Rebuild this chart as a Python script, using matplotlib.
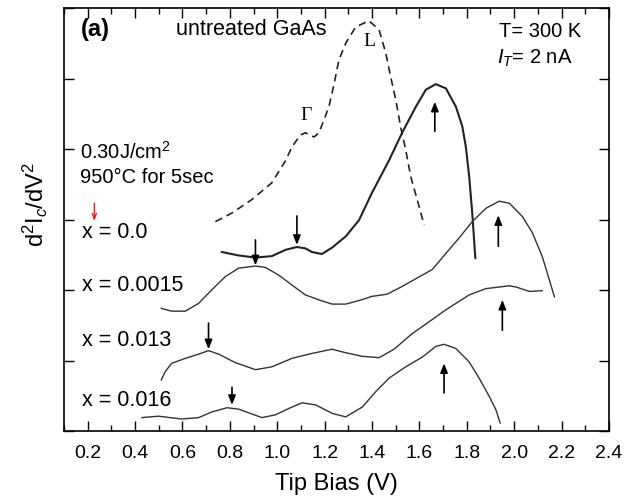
import matplotlib
matplotlib.use('Agg')
import matplotlib.pyplot as plt
import numpy as np

plt.rcParams['font.family'] = ['Liberation Sans', 'DejaVu Sans']
plt.rcParams['mathtext.fontset'] = 'custom'
plt.rcParams['mathtext.rm'] = 'Liberation Sans'
plt.rcParams['mathtext.it'] = 'Liberation Sans:italic'

# untreated GaAs reference (dashed)
ref_x = [0.739, 0.808, 0.892, 0.977, 1.036, 1.062, 1.098, 1.119, 1.155, 1.176, 1.197,
         1.218, 1.239, 1.260, 1.289, 1.331, 1.387, 1.430, 1.458, 1.479, 1.500, 1.521,
         1.542, 1.564, 1.599, 1.620]
ref_y = [2.97, 3.09, 3.28, 3.52, 3.84, 4.03, 4.20, 4.23, 4.17, 4.23, 4.41,
         4.60, 4.91, 5.26, 5.50, 5.73, 5.82, 5.69, 5.36, 5.02, 4.70, 4.31,
         3.99, 3.60, 3.18, 2.92]

# x = 0.0
c0_x = [0.765, 0.837, 0.908, 0.977, 1.035, 1.083, 1.119, 1.146, 1.188, 1.231, 1.289,
        1.345, 1.400, 1.472, 1.527, 1.585, 1.627, 1.669, 1.712, 1.754, 1.781, 1.796,
        1.810, 1.823, 1.836]
c0_y = [2.54, 2.49, 2.46, 2.48, 2.57, 2.61, 2.59, 2.54, 2.51, 2.60, 2.76,
        2.99, 3.38, 3.84, 4.23, 4.60, 4.84, 4.92, 4.86, 4.60, 4.32, 4.03,
        3.61, 3.09, 2.45]

# x = 0.0015
c1_x = [0.510, 0.554, 0.612, 0.668, 0.723, 0.781, 0.837, 0.908, 0.950, 1.007, 1.062,
        1.119, 1.176, 1.231, 1.289, 1.345, 1.400, 1.463, 1.527, 1.585, 1.654, 1.712,
        1.768, 1.823, 1.881, 1.937, 1.980, 2.035, 2.077, 2.119, 2.170]
c1_y = [1.74, 1.70, 1.70, 1.81, 2.00, 2.19, 2.31, 2.34, 2.32, 2.21, 2.07,
        1.93, 1.86, 1.80, 1.80, 1.85, 1.91, 1.94, 2.05, 2.16, 2.29, 2.52,
        2.74, 2.97, 3.16, 3.26, 3.23, 3.04, 2.81, 2.47, 1.90]

# x = 0.013
c2_x = [0.510, 0.527, 0.554, 0.612, 0.668, 0.710, 0.753, 0.823, 0.908, 0.977, 1.062,
        1.146, 1.231, 1.289, 1.358, 1.430, 1.493, 1.569, 1.641, 1.712, 1.810, 1.881,
        1.980, 2.010, 2.064, 2.119]
c2_y = [0.72, 0.84, 0.96, 1.03, 1.09, 1.14, 1.09, 0.97, 0.87, 0.91, 1.03,
        1.10, 1.16, 1.11, 1.06, 1.04, 1.16, 1.38, 1.55, 1.72, 1.93, 2.02,
        2.06, 2.04, 1.98, 1.99]

# x = 0.016
c3_x = [0.428, 0.499, 0.597, 0.668, 0.724, 0.788, 0.837, 0.894, 0.936, 0.993, 1.049,
        1.105, 1.162, 1.232, 1.289, 1.359, 1.416, 1.472, 1.542, 1.613, 1.669, 1.704,
        1.754, 1.810, 1.852, 1.895, 1.923, 1.941]
c3_y = [0.19, 0.21, 0.17, 0.19, 0.27, 0.33, 0.31, 0.24, 0.19, 0.23, 0.32,
        0.40, 0.37, 0.25, 0.20, 0.34, 0.56, 0.75, 0.91, 1.05, 1.20, 1.23,
        1.17, 0.98, 0.75, 0.49, 0.30, 0.11]

# arrows: (x, tail_y, tip_y)
arrows = [(1.083, 3.05, 2.64), (1.665, 4.25, 4.67),
          (0.908, 2.71, 2.35), (1.933, 2.62, 3.06),
          (0.710, 1.53, 1.16), (1.950, 1.43, 1.86),
          (0.809, 0.62, 0.37), (1.704, 0.54, 0.96)]
red_arrow = (0.228, 3.23, 2.98)

labels = ['x = 0.0', 'x = 0.0015', 'x = 0.013', 'x = 0.016']
label_y = [2.82, 2.07, 1.28, 0.43]

fig = plt.figure(figsize=(6.38, 5.0), dpi=100)
ax = fig.add_axes([0.1003, 0.138, 0.8542, 0.846])

line_kw = dict(solid_joinstyle='round', solid_capstyle='round')
ax.plot(ref_x, ref_y, ls=(0, (4.5, 3)), color='#222222', lw=1.2)
ax.plot(c0_x, c0_y, color='#222222', lw=1.5, **line_kw)
ax.plot(c1_x, c1_y, color='#333333', lw=1.0, **line_kw)
ax.plot(c2_x, c2_y, color='#333333', lw=1.0, **line_kw)
ax.plot(c3_x, c3_y, color='#333333', lw=1.0, **line_kw)

for x, y0, y1 in arrows:
    ax.annotate('', xy=(x, y1), xytext=(x, y0),
                arrowprops=dict(arrowstyle='-|>,head_length=0.55,head_width=0.22',
                                color='k', lw=1.2, shrinkA=0, shrinkB=0))
ax.annotate('', xy=(red_arrow[0], red_arrow[2]), xytext=(red_arrow[0], red_arrow[1]),
            arrowprops=dict(arrowstyle='->,head_length=0.4,head_width=0.15',
                            color='#e02020', lw=1.0, shrinkA=0, shrinkB=0))

fs = 15.5
ax.text(0.173, 5.69, '(a)', fontsize=17, fontweight='bold', va='center')
ax.text(0.571, 5.69, 'untreated GaAs', fontsize=fs, va='center')
ax.text(1.937, 5.66, 'T= 300 K', fontsize=14.5, va='center')
ax.text(1.928, 5.29, r'$I_T$= 2 nA', fontsize=14.5, va='center')
ax.text(0.168, 3.96, r'0.30J/cm$^2$', fontsize=14.5, va='center')
ax.text(0.168, 3.59, '950°C for 5sec', fontsize=14.5, va='center')
for lab, y in zip(labels, label_y):
    ax.text(0.175, y, lab, fontsize=fs, va='center')
ax.text(1.387, 5.52, 'L', fontsize=14, family='Liberation Serif', ha='center', va='center')
ax.text(1.121, 4.48, 'Γ', fontsize=14, family='Liberation Serif', ha='center', va='center')

ax.set_xlim(0.1, 2.4)
ax.set_ylim(0, 6)
ax.set_xticks(np.arange(0.2, 2.41, 0.2))
ax.set_xticks(np.arange(0.1, 2.41, 0.1), minor=True)
ax.set_xticklabels(['%.1f' % v for v in np.arange(0.2, 2.41, 0.2)])
ax.set_yticks(np.arange(0, 6.1, 1))
ax.set_yticklabels([])
ax.tick_params(which='both', direction='in', top=True, right=True, width=1.0)
ax.tick_params(which='major', length=7, labelsize=14, pad=10)
ax.tick_params(which='minor', length=4)
for s in ax.spines.values():
    s.set_linewidth(1.2)

ax.set_xlabel('Tip Bias (V)', fontsize=17, labelpad=8)
fig.text(35 / 638, 1 - 205 / 500, r'd$^2$I$_c$/dV$^2$', fontsize=17,
         rotation=90, ha='center', va='center')

fig.savefig('out.png', dpi=100)
